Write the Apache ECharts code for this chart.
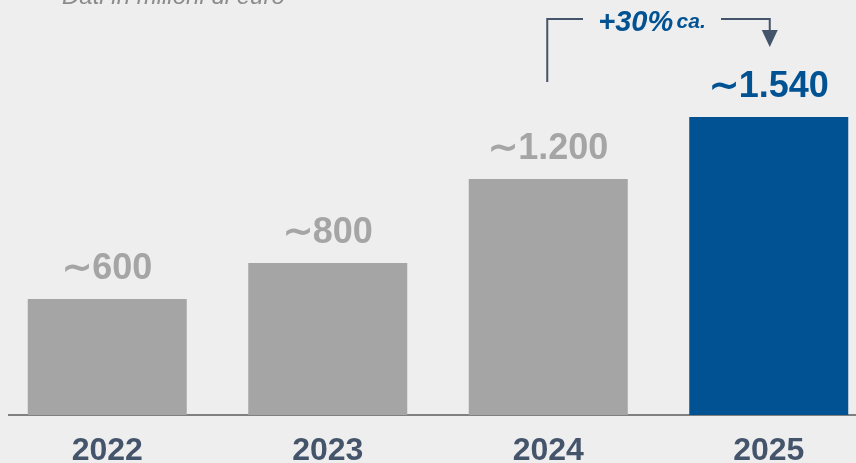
<!DOCTYPE html>
<html>
<head>
<meta charset="utf-8">
<script src="https://cdn.jsdelivr.net/npm/echarts@6/dist/echarts.min.js"></script>
<style>
html,body{margin:0;padding:0;background:#eeeeee;}
#c{width:856px;height:463px;}
</style>
</head>
<body>
<div id="c"></div>
<script>
const categories = ['2022', '2023', '2024', '2025'];
const values = [600, 785, 1220, 1540];
const valueLabels = ['\u223C600', '\u223C800', '\u223C1.200', '\u223C1.540'];
const barColors = ['#a5a5a5', '#a5a5a5', '#a5a5a5', '#005293'];
const labelColors = ['#a5a5a5', '#a5a5a5', '#a5a5a5', '#005293'];
const subtitle = 'Dati in milioni di euro';
const growthLabel = '+30%';
const growthSuffix = 'ca.';

const chart = echarts.init(document.getElementById('c'), null, {renderer: 'canvas'});
const font = 'Liberation Sans, Arial, Helvetica, sans-serif';

const option = {
  backgroundColor: '#eeeeee',
  animation: false,
  grid: {left: -3, right: -23, top: 28, bottom: 48, containLabel: false, outerBoundsMode: 'none'},
  xAxis: {
    type: 'category',
    data: categories,
    axisLine: {show: false},
    axisTick: {show: false},
    axisLabel: {
      color: '#44546a', fontSize: 32, fontWeight: 'bold', fontFamily: font, margin: 20
    }
  },
  yAxis: {type: 'value', min: 0, max: 2000, show: false, splitLine: {show: false}},
  series: [{
    type: 'bar',
    barWidth: 159,
    data: values.map((v, i) => ({
      value: v,
      itemStyle: {color: barColors[i]},
      label: {color: labelColors[i]}
    })),
    label: {
      show: true,
      position: 'top',
      distance: 12,
      fontSize: 36,
      fontWeight: 'bold',
      fontFamily: font,
      formatter: p => valueLabels[p.dataIndex]
    }
  }]
};
chart.setOption(option);

const x24 = chart.convertToPixel({xAxisIndex: 0}, categories[2]);
const x25 = chart.convertToPixel({xAxisIndex: 0}, categories[3]);
const base = chart.convertToPixel({yAxisIndex: 0}, 0);
const lineColor = '#44546a';

chart.setOption({
  graphic: [
    {type: 'line', shape: {x1: 8, y1: base, x2: 856, y2: base}, style: {stroke: '#808080', lineWidth: 2}},
    {type: 'text', style: {x: 62, y: 9, text: subtitle, font: 'italic 24px ' + font, fill: '#8c8c8c', textVerticalAlign: 'bottom'}},
    {type: 'polyline', shape: {points: [[x24 - 1, 82], [x24 - 1, 19], [583, 19]]}, style: {stroke: lineColor, lineWidth: 2, fill: null}},
    {type: 'polyline', shape: {points: [[721, 19], [x25 + 1, 19], [x25 + 1, 32]]}, style: {stroke: lineColor, lineWidth: 2, fill: null}},
    {type: 'polygon', shape: {points: [[x25 - 7, 30], [x25 + 9, 30], [x25 + 1, 47]]}, style: {fill: lineColor}},
    {type: 'text', style: {
      x: 652, y: 37, textAlign: 'center', textVerticalAlign: 'bottom',
      rich: {
        a: {fontSize: 29, fontWeight: 'bold', fontStyle: 'italic', fontFamily: font, fill: '#005293', color: '#005293'},
        b: {fontSize: 21, fontWeight: 'bold', fontStyle: 'italic', fontFamily: font, fill: '#005293', color: '#005293'}
      },
      text: '{a|' + growthLabel + '} {b|' + growthSuffix + '}'
    }}
  ]
});
</script>
</body>
</html>
